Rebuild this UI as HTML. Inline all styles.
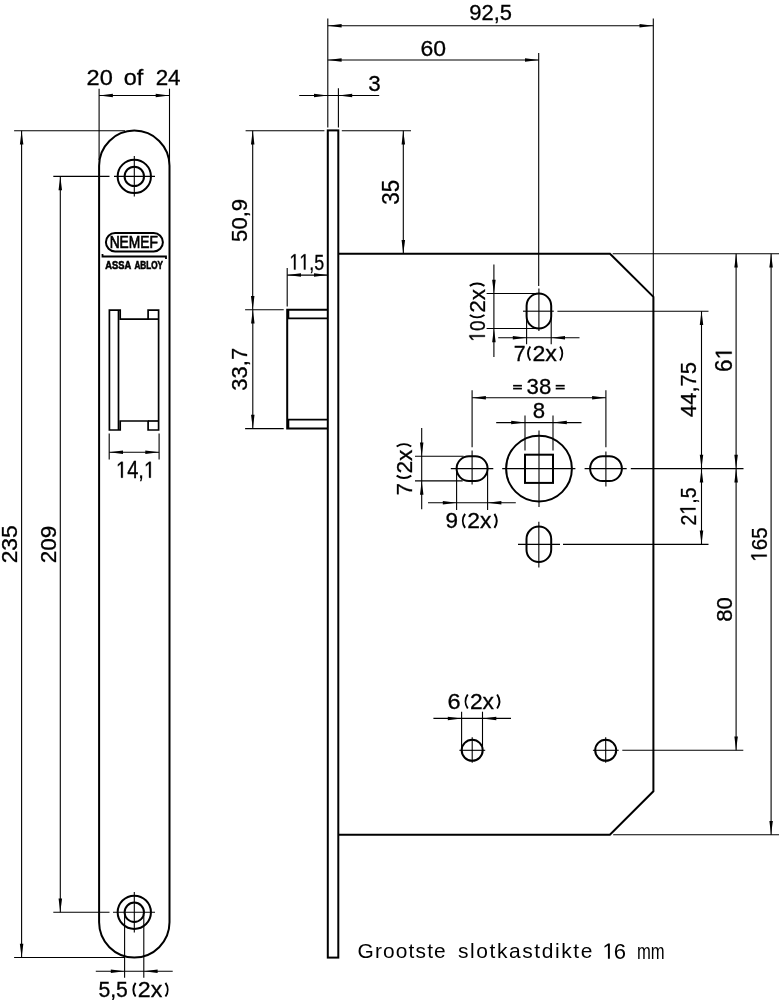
<!DOCTYPE html>
<html><head><meta charset="utf-8"><style>
html,body{margin:0;padding:0;background:#fff;}
svg{display:block;will-change:transform;}
text{font-family:"Liberation Sans",sans-serif;fill:#000;stroke:#000;stroke-width:0.3px;font-kerning:none;}
text.note{stroke:none;}
</style></head><body>
<svg width="780" height="1000" viewBox="0 0 780 1000">
<rect width="780" height="1000" fill="#fff"/>
<g stroke="#000" fill="none" stroke-linecap="butt">
<path d="M99.1,165.8 A35.2,35.2 0 0 1 169.5,165.8 L169.5,922.3 A35.2,35.2 0 0 1 99.1,922.3 Z" stroke-width="2.0" fill="none"/>
<circle cx="134.3" cy="176.4" r="16.65" stroke-width="2"/>
<circle cx="134.3" cy="176.4" r="9.7" stroke-width="2"/>
<circle cx="134.3" cy="912.3" r="16.65" stroke-width="2"/>
<circle cx="134.3" cy="912.3" r="9.7" stroke-width="2"/>
<line x1="114" y1="176.4" x2="155" y2="176.4" stroke-width="1.1"/>
<line x1="134.3" y1="156" x2="134.3" y2="196.5" stroke-width="1.1"/>
<line x1="113" y1="912.3" x2="155" y2="912.3" stroke-width="1.1"/>
<line x1="134.3" y1="892" x2="134.3" y2="932.5" stroke-width="1.1"/>
<rect x="105.9" y="233.0" width="57.0" height="18.4" rx="9.2" stroke-width="2"/>
<text x="109.67" y="247.90" font-size="16.13" textLength="48.28" lengthAdjust="spacingAndGlyphs" font-weight="normal" style="stroke-width:0.7px">NEMEF</text>
<path d="M102.5,254 V256.5 H166 V259" stroke-width="1.8" fill="none"/>
<text x="105.37" y="268.60" font-size="10.60" textLength="25.88" lengthAdjust="spacingAndGlyphs" font-weight="bold" style="stroke-width:0.6px">ASSA</text>
<text x="134.40" y="268.60" font-size="10.60" textLength="28.53" lengthAdjust="spacingAndGlyphs" font-weight="bold" style="stroke-width:0.6px">ABLOY</text>
<path d="M109.4,310.2 H120.2 V319.1 H148.1 V310.2 H158.6 V430 H148.1 V421 H120.2 V430 H109.4 Z" stroke-width="1.7" fill="none"/>
<line x1="118.5" y1="310.2" x2="118.5" y2="430" stroke-width="1.7"/>
<line x1="148.1" y1="319.1" x2="158.6" y2="319.1" stroke-width="1.7"/>
<line x1="148.1" y1="421" x2="158.6" y2="421" stroke-width="1.7"/>
<line x1="109.2" y1="433.5" x2="109.2" y2="459.6" stroke-width="1.1"/>
<line x1="159.1" y1="433.5" x2="159.1" y2="459.6" stroke-width="1.1"/>
<line x1="109.2" y1="452.2" x2="159.1" y2="452.2" stroke-width="1.1"/>
<path d="M109.20,452.20 L123.00,453.95 L123.00,450.45 Z" fill="#000" stroke="none"/>
<path d="M159.10,452.20 L145.30,450.45 L145.30,453.95 Z" fill="#000" stroke="none"/>
<text x="115.96" y="477.70" font-size="23.11" textLength="39.19" lengthAdjust="spacingAndGlyphs" font-weight="normal" > 4, </text>
<polygon points="121.03,477.70 121.03,463.74 117.90,466.30 117.90,464.38 121.17,461.80 122.81,461.80 122.81,477.70" fill="#000" stroke="#000" stroke-width="0.3"/>
<polygon points="149.02,477.70 149.02,463.74 145.89,466.30 145.89,464.38 149.17,461.80 150.80,461.80 150.80,477.70" fill="#000" stroke="#000" stroke-width="0.3"/>
<line x1="99.1" y1="88.7" x2="99.1" y2="160" stroke-width="1.1"/>
<line x1="169.5" y1="88.7" x2="169.5" y2="160" stroke-width="1.1"/>
<line x1="99.1" y1="95.5" x2="169.5" y2="95.5" stroke-width="1.1"/>
<path d="M99.10,95.50 L112.90,97.25 L112.90,93.75 Z" fill="#000" stroke="none"/>
<path d="M169.50,95.50 L155.70,93.75 L155.70,97.25 Z" fill="#000" stroke="none"/>
<text x="86.62" y="85.20" font-size="22.06" textLength="26.21" lengthAdjust="spacingAndGlyphs" font-weight="normal" >20</text>
<text x="123.72" y="85.20" font-size="21.28" textLength="19.55" lengthAdjust="spacingAndGlyphs" font-weight="normal" >of</text>
<text x="155.68" y="85.20" font-size="22.06" textLength="24.88" lengthAdjust="spacingAndGlyphs" font-weight="normal" >24</text>
<line x1="14.1" y1="130.79999999999998" x2="125" y2="130.79999999999998" stroke-width="1.1"/>
<line x1="14.1" y1="957.5" x2="125" y2="957.5" stroke-width="1.1"/>
<line x1="21.6" y1="130.79999999999998" x2="21.6" y2="957.5" stroke-width="1.1"/>
<path d="M21.60,130.80 L19.85,144.60 L23.35,144.60 Z" fill="#000" stroke="none"/>
<path d="M21.60,957.50 L23.35,943.70 L19.85,943.70 Z" fill="#000" stroke="none"/>
<g transform="translate(17.10,562.20) rotate(-90)">
<text x="-1.15" y="0.00" font-size="22.34" textLength="38.11" lengthAdjust="spacingAndGlyphs" font-weight="normal" >235</text>
</g>
<line x1="53.3" y1="176.4" x2="109.5" y2="176.4" stroke-width="1.1"/>
<line x1="53.3" y1="912.3" x2="109.5" y2="912.3" stroke-width="1.1"/>
<line x1="60.3" y1="176.4" x2="60.3" y2="912.3" stroke-width="1.1"/>
<path d="M60.30,176.40 L58.55,190.20 L62.05,190.20 Z" fill="#000" stroke="none"/>
<path d="M60.30,912.30 L62.05,898.50 L58.55,898.50 Z" fill="#000" stroke="none"/>
<g transform="translate(56.00,562.20) rotate(-90)">
<text x="-1.13" y="0.00" font-size="22.63" textLength="37.60" lengthAdjust="spacingAndGlyphs" font-weight="normal" >209</text>
</g>
<line x1="124.6" y1="915" x2="124.6" y2="977.7" stroke-width="1.1"/>
<line x1="143.8" y1="915" x2="143.8" y2="977.7" stroke-width="1.1"/>
<line x1="95.8" y1="971.2" x2="172.7" y2="971.2" stroke-width="1.1"/>
<path d="M124.60,971.20 L110.80,969.45 L110.80,972.95 Z" fill="#000" stroke="none"/>
<path d="M143.80,971.20 L157.60,972.95 L157.60,969.45 Z" fill="#000" stroke="none"/>
<text x="98.45" y="997.00" font-size="21.51" textLength="29.44" lengthAdjust="spacingAndGlyphs" font-weight="normal" >5,5</text>
<path d="M135.65,982.85 A11.35,11.35 0 0 0 135.65,996.55" stroke-width="1.9" fill="none"/>
<text x="137.82" y="997.00" font-size="21.20" textLength="24.51" lengthAdjust="spacingAndGlyphs" font-weight="normal" >2x</text>
<path d="M165.46,982.85 A11.81,11.81 0 0 1 165.46,996.55" stroke-width="1.9" fill="none"/>
<rect x="327.8" y="130.4" width="10.50" height="827.20" stroke-width="2"/>
<path d="M338.3,253.7 H610.0 L653.4,296.9 V791.3 L609.9,834.7 H338.3" stroke-width="2.0" fill="none"/>
<path d="M327.8,309.7 H287.2 V428.6 H327.8" stroke-width="2.0" fill="none"/>
<line x1="288.5" y1="309.7" x2="288.5" y2="318.4" stroke-width="1.6"/>
<line x1="288.5" y1="419.6" x2="288.5" y2="428.6" stroke-width="1.6"/>
<line x1="287.9" y1="318.4" x2="327.8" y2="318.4" stroke-width="1.8"/>
<line x1="287.9" y1="419.6" x2="327.8" y2="419.6" stroke-width="1.8"/>
<line x1="327.8" y1="18.5" x2="327.8" y2="127.4" stroke-width="1.1"/>
<line x1="653.3" y1="18.5" x2="653.3" y2="297" stroke-width="1.1"/>
<line x1="327.8" y1="25.7" x2="653.3" y2="25.7" stroke-width="1.1"/>
<path d="M327.80,25.70 L341.60,27.45 L341.60,23.95 Z" fill="#000" stroke="none"/>
<path d="M653.30,25.70 L639.50,23.95 L639.50,27.45 Z" fill="#000" stroke="none"/>
<text x="469.27" y="19.80" font-size="21.77" textLength="42.65" lengthAdjust="spacingAndGlyphs" font-weight="normal" >92,5</text>
<line x1="538.7" y1="53" x2="538.7" y2="286" stroke-width="1.1"/>
<line x1="327.8" y1="60.0" x2="538.8" y2="60.0" stroke-width="1.1"/>
<path d="M327.80,60.00 L341.60,61.75 L341.60,58.25 Z" fill="#000" stroke="none"/>
<path d="M538.80,60.00 L525.00,58.25 L525.00,61.75 Z" fill="#000" stroke="none"/>
<text x="420.53" y="55.80" font-size="22.34" textLength="25.56" lengthAdjust="spacingAndGlyphs" font-weight="normal" >60</text>
<line x1="338.4" y1="88.2" x2="338.4" y2="127.4" stroke-width="1.1"/>
<line x1="299.2" y1="95.5" x2="379.2" y2="95.5" stroke-width="1.1"/>
<path d="M327.80,95.50 L314.00,93.75 L314.00,97.25 Z" fill="#000" stroke="none"/>
<path d="M338.40,95.50 L352.20,97.25 L352.20,93.75 Z" fill="#000" stroke="none"/>
<text x="368.15" y="91.00" font-size="22.34" textLength="12.43" lengthAdjust="spacingAndGlyphs" font-weight="normal" >3</text>
<line x1="341.8" y1="130.8" x2="411" y2="130.8" stroke-width="1.1"/>
<line x1="403.3" y1="130.8" x2="403.3" y2="253.7" stroke-width="1.1"/>
<path d="M403.30,130.80 L401.55,144.60 L405.05,144.60 Z" fill="#000" stroke="none"/>
<path d="M403.30,253.70 L405.05,239.90 L401.55,239.90 Z" fill="#000" stroke="none"/>
<g transform="translate(399.30,204.00) rotate(-90)">
<text x="-0.86" y="0.00" font-size="23.34" textLength="25.00" lengthAdjust="spacingAndGlyphs" font-weight="normal" >35</text>
</g>
<line x1="245.6" y1="130.8" x2="324.4" y2="130.8" stroke-width="1.1"/>
<line x1="252.7" y1="130.8" x2="252.7" y2="309.7" stroke-width="1.1"/>
<path d="M252.70,130.80 L250.95,144.60 L254.45,144.60 Z" fill="#000" stroke="none"/>
<path d="M252.70,309.70 L254.45,295.90 L250.95,295.90 Z" fill="#000" stroke="none"/>
<g transform="translate(246.90,241.00) rotate(-90)">
<text x="-0.89" y="0.00" font-size="22.77" textLength="43.03" lengthAdjust="spacingAndGlyphs" font-weight="normal" >50,9</text>
</g>
<line x1="245.1" y1="309.7" x2="283.7" y2="309.7" stroke-width="1.1"/>
<line x1="245.1" y1="428.6" x2="283.7" y2="428.6" stroke-width="1.1"/>
<line x1="252.8" y1="309.7" x2="252.8" y2="428.6" stroke-width="1.1"/>
<path d="M252.80,309.70 L251.05,323.50 L254.55,323.50 Z" fill="#000" stroke="none"/>
<path d="M252.80,428.60 L254.55,414.80 L251.05,414.80 Z" fill="#000" stroke="none"/>
<g transform="translate(246.90,389.80) rotate(-90)">
<text x="-0.84" y="0.00" font-size="22.77" textLength="42.74" lengthAdjust="spacingAndGlyphs" font-weight="normal" >33,7</text>
</g>
<line x1="287.2" y1="268.0" x2="287.2" y2="306.5" stroke-width="1.1"/>
<line x1="287.2" y1="275.1" x2="327.8" y2="275.1" stroke-width="1.1"/>
<path d="M287.20,275.10 L301.00,276.85 L301.00,273.35 Z" fill="#000" stroke="none"/>
<path d="M327.80,275.10 L314.00,273.35 L314.00,276.85 Z" fill="#000" stroke="none"/>
<text x="289.48" y="269.60" font-size="22.38" textLength="34.77" lengthAdjust="spacingAndGlyphs" font-weight="normal" >  ,5</text>
<polygon points="293.97,269.60 293.97,256.08 291.20,258.56 291.20,256.70 294.10,254.20 295.55,254.20 295.55,269.60" fill="#000" stroke="#000" stroke-width="0.3"/>
<polygon points="303.91,269.60 303.91,256.08 301.14,258.56 301.14,256.70 304.04,254.20 305.49,254.20 305.49,269.60" fill="#000" stroke="#000" stroke-width="0.3"/>
<path d="M526.6,305.8 A12.3,12.3 0 0 1 551.1999999999999,305.8 V316.2 A12.3,12.3 0 0 1 526.6,316.2 Z" stroke-width="2.0" fill="none"/>
<line x1="523" y1="311.2" x2="553.8" y2="311.2" stroke-width="1.1"/>
<line x1="538.9" y1="288.5" x2="538.9" y2="331" stroke-width="1.1"/>
<line x1="486.6" y1="293.5" x2="535.4" y2="293.5" stroke-width="1.1"/>
<line x1="486.6" y1="328.5" x2="537" y2="328.5" stroke-width="1.1"/>
<line x1="493.9" y1="264.6" x2="493.9" y2="357" stroke-width="1.1"/>
<path d="M493.90,293.50 L495.65,279.70 L492.15,279.70 Z" fill="#000" stroke="none"/>
<path d="M493.90,328.50 L492.15,342.30 L495.65,342.30 Z" fill="#000" stroke="none"/>
<g transform="translate(484.90,339.80) rotate(-90)">
<text x="-1.83" y="0.00" font-size="22.63" textLength="21.17" lengthAdjust="spacingAndGlyphs" font-weight="normal" > 0</text>
<polygon points="2.96,0.00 2.96,-13.67 0.00,-11.16 0.00,-13.04 3.10,-15.57 4.64,-15.57 4.64,0.00" fill="#000" stroke="#000" stroke-width="0.3"/>
</g>
<g transform="translate(484.90,318.10) rotate(-90)">
<path d="M3.14,-15.15 A13.40,13.40 0 0 0 3.14,-0.45" stroke-width="1.9" fill="none"/>
<text x="5.29" y="0.00" font-size="22.63" textLength="23.90" lengthAdjust="spacingAndGlyphs" font-weight="normal" >2x</text>
<path d="M32.26,-15.15 A13.98,13.98 0 0 1 32.26,-0.45" stroke-width="1.9" fill="none"/>
</g>
<line x1="526.6" y1="318" x2="526.6" y2="344.2" stroke-width="1.1"/>
<line x1="551.2" y1="318" x2="551.2" y2="344.2" stroke-width="1.1"/>
<line x1="498.2" y1="337.7" x2="579.5" y2="337.7" stroke-width="1.1"/>
<path d="M526.60,337.70 L512.80,335.95 L512.80,339.45 Z" fill="#000" stroke="none"/>
<path d="M551.20,337.70 L565.00,339.45 L565.00,335.95 Z" fill="#000" stroke="none"/>
<text x="513.81" y="360.90" font-size="21.95" textLength="11.87" lengthAdjust="spacingAndGlyphs" font-weight="normal" >7</text>
<path d="M530.29,346.45 A11.83,11.83 0 0 0 530.29,360.45" stroke-width="1.9" fill="none"/>
<text x="532.46" y="360.90" font-size="21.63" textLength="24.48" lengthAdjust="spacingAndGlyphs" font-weight="normal" >2x</text>
<path d="M560.07,346.45 A12.31,12.31 0 0 1 560.07,360.45" stroke-width="1.9" fill="none"/>
<line x1="557.4" y1="311.2" x2="708.5" y2="311.2" stroke-width="1.1"/>
<line x1="701.5" y1="311.2" x2="701.5" y2="468.6" stroke-width="1.1"/>
<path d="M701.50,311.20 L699.75,325.00 L703.25,325.00 Z" fill="#000" stroke="none"/>
<path d="M701.50,468.60 L703.25,454.80 L699.75,454.80 Z" fill="#000" stroke="none"/>
<g transform="translate(695.80,416.50) rotate(-90)">
<text x="-0.50" y="0.00" font-size="22.67" textLength="54.93" lengthAdjust="spacingAndGlyphs" font-weight="normal" >44,75</text>
</g>
<line x1="612.7" y1="253.7" x2="779" y2="253.7" stroke-width="1.1"/>
<line x1="736.1" y1="253.7" x2="736.1" y2="468.6" stroke-width="1.1"/>
<path d="M736.10,253.70 L734.35,267.50 L737.85,267.50 Z" fill="#000" stroke="none"/>
<path d="M736.10,468.60 L737.85,454.80 L734.35,454.80 Z" fill="#000" stroke="none"/>
<g transform="translate(731.70,370.80) rotate(-90)">
<text x="-1.14" y="0.00" font-size="23.20" textLength="25.00" lengthAdjust="spacingAndGlyphs" font-weight="normal" >6 </text>
<polygon points="17.01,0.00 17.01,-14.01 13.52,-11.44 13.52,-13.37 17.18,-15.96 19.00,-15.96 19.00,0.00" fill="#000" stroke="#000" stroke-width="0.3"/>
</g>
<line x1="450.8" y1="468.6" x2="493.3" y2="468.6" stroke-width="1.1"/>
<line x1="502.2" y1="468.6" x2="575.4" y2="468.6" stroke-width="1.1"/>
<line x1="584.6" y1="468.6" x2="626.7" y2="468.6" stroke-width="1.1"/>
<line x1="630.8" y1="468.6" x2="743.5" y2="468.6" stroke-width="1.1"/>
<line x1="472.1" y1="390.3" x2="472.1" y2="447.3" stroke-width="1.1"/>
<line x1="605.9" y1="390.3" x2="605.9" y2="447.3" stroke-width="1.1"/>
<line x1="472.1" y1="397.8" x2="605.9" y2="397.8" stroke-width="1.1"/>
<path d="M472.10,397.80 L485.90,399.55 L485.90,396.05 Z" fill="#000" stroke="none"/>
<path d="M605.90,397.80 L592.10,396.05 L592.10,399.55 Z" fill="#000" stroke="none"/>
<text x="526.55" y="393.50" font-size="22.49" textLength="24.71" lengthAdjust="spacingAndGlyphs" font-weight="normal" >38</text>
<line x1="513.1" y1="385.7" x2="521.9" y2="385.7" stroke-width="1.7"/>
<line x1="513.1" y1="388.6" x2="521.9" y2="388.6" stroke-width="1.7"/>
<line x1="555.7" y1="385.7" x2="564.7" y2="385.7" stroke-width="1.7"/>
<line x1="555.7" y1="388.6" x2="564.7" y2="388.6" stroke-width="1.7"/>
<line x1="525.0" y1="415.5" x2="525.0" y2="450.5" stroke-width="1.1"/>
<line x1="553.0" y1="415.5" x2="553.0" y2="450.5" stroke-width="1.1"/>
<line x1="496.2" y1="422.6" x2="581.5" y2="422.6" stroke-width="1.1"/>
<path d="M525.00,422.60 L511.20,420.85 L511.20,424.35 Z" fill="#000" stroke="none"/>
<path d="M553.00,422.60 L566.80,424.35 L566.80,420.85 Z" fill="#000" stroke="none"/>
<text x="532.64" y="418.00" font-size="22.20" textLength="12.33" lengthAdjust="spacingAndGlyphs" font-weight="normal" >8</text>
<circle cx="539.0" cy="468.6" r="32.9" stroke-width="2"/>
<rect x="525.0" y="454.7" width="28.0" height="28.2" stroke-width="2"/>
<line x1="539.0" y1="430.5" x2="539.0" y2="507" stroke-width="1.1"/>
<path d="M468.95000000000005,456.25 H475.25 A12.35,12.35 0 0 1 475.25,480.95000000000005 H468.95000000000005 A12.35,12.35 0 0 1 468.95000000000005,456.25 Z" stroke-width="2.0" fill="none"/>
<line x1="472.1" y1="450.5" x2="472.1" y2="484.5" stroke-width="1.1"/>
<path d="M602.55,456.15000000000003 H609.45 A12.45,12.45 0 0 1 609.45,481.05 H602.55 A12.45,12.45 0 0 1 602.55,456.15000000000003 Z" stroke-width="2.0" fill="none"/>
<line x1="605.9" y1="451.4" x2="605.9" y2="486.4" stroke-width="1.1"/>
<line x1="415" y1="456.2" x2="463.6" y2="456.2" stroke-width="1.1"/>
<line x1="415" y1="480.9" x2="462.7" y2="480.9" stroke-width="1.1"/>
<line x1="421.7" y1="428" x2="421.7" y2="509.2" stroke-width="1.1"/>
<path d="M421.70,456.20 L423.45,442.40 L419.95,442.40 Z" fill="#000" stroke="none"/>
<path d="M421.70,480.90 L419.95,494.70 L423.45,494.70 Z" fill="#000" stroke="none"/>
<g transform="translate(411.70,494.10) rotate(-90)">
<text x="-1.12" y="0.00" font-size="22.82" textLength="12.11" lengthAdjust="spacingAndGlyphs" font-weight="normal" >7</text>
</g>
<g transform="translate(411.70,478.80) rotate(-90)">
<path d="M3.16,-15.05 A13.18,13.18 0 0 0 3.16,-0.45" stroke-width="1.9" fill="none"/>
<text x="5.30" y="0.00" font-size="22.49" textLength="23.97" lengthAdjust="spacingAndGlyphs" font-weight="normal" >2x</text>
<path d="M32.35,-15.05 A13.74,13.74 0 0 1 32.35,-0.45" stroke-width="1.9" fill="none"/>
</g>
<line x1="456.6" y1="472" x2="456.6" y2="510" stroke-width="1.1"/>
<line x1="487.6" y1="472" x2="487.6" y2="510" stroke-width="1.1"/>
<line x1="428" y1="502.8" x2="515.8" y2="502.8" stroke-width="1.1"/>
<path d="M456.60,502.80 L442.80,501.05 L442.80,504.55 Z" fill="#000" stroke="none"/>
<path d="M487.60,502.80 L501.40,504.55 L501.40,501.05 Z" fill="#000" stroke="none"/>
<text x="445.44" y="528.30" font-size="21.63" textLength="12.52" lengthAdjust="spacingAndGlyphs" font-weight="normal" >9</text>
<path d="M465.08,513.85 A12.10,12.10 0 0 0 465.08,527.85" stroke-width="1.9" fill="none"/>
<text x="467.23" y="528.30" font-size="21.63" textLength="24.11" lengthAdjust="spacingAndGlyphs" font-weight="normal" >2x</text>
<path d="M494.43,513.85 A12.60,12.60 0 0 1 494.43,527.85" stroke-width="1.9" fill="none"/>
<path d="M526.5,538.9499999999999 A12.35,12.35 0 0 1 551.2,538.9499999999999 V549.65 A12.35,12.35 0 0 1 526.5,549.65 Z" stroke-width="2.0" fill="none"/>
<line x1="518" y1="544.4" x2="560" y2="544.4" stroke-width="1.1"/>
<line x1="538.85" y1="521.7" x2="538.85" y2="567.4" stroke-width="1.1"/>
<line x1="563" y1="544.4" x2="708.5" y2="544.4" stroke-width="1.1"/>
<line x1="701.5" y1="468.6" x2="701.5" y2="544.4" stroke-width="1.1"/>
<path d="M701.50,468.60 L699.75,482.40 L703.25,482.40 Z" fill="#000" stroke="none"/>
<path d="M701.50,544.40 L703.25,530.60 L699.75,530.60 Z" fill="#000" stroke="none"/>
<g transform="translate(695.50,524.50) rotate(-90)">
<text x="-0.98" y="0.00" font-size="22.20" textLength="38.00" lengthAdjust="spacingAndGlyphs" font-weight="normal" >2 ,5</text>
<polygon points="14.79,0.00 14.79,-13.41 11.76,-10.95 11.76,-12.79 14.93,-15.27 16.51,-15.27 16.51,0.00" fill="#000" stroke="#000" stroke-width="0.3"/>
</g>
<circle cx="472.2" cy="750.3" r="10.5" stroke-width="2"/>
<line x1="459.4" y1="750.3" x2="485.2" y2="750.3" stroke-width="1.1"/>
<line x1="472.2" y1="737.2" x2="472.2" y2="762.8" stroke-width="1.1"/>
<circle cx="605.7" cy="750.3" r="10.5" stroke-width="2"/>
<line x1="592.9000000000001" y1="750.3" x2="618.7" y2="750.3" stroke-width="1.1"/>
<line x1="605.7" y1="737.2" x2="605.7" y2="762.8" stroke-width="1.1"/>
<line x1="622.3" y1="750.3" x2="743.3" y2="750.3" stroke-width="1.1"/>
<line x1="736.1" y1="468.6" x2="736.1" y2="750.3" stroke-width="1.1"/>
<path d="M736.10,468.60 L734.35,482.40 L737.85,482.40 Z" fill="#000" stroke="none"/>
<path d="M736.10,750.30 L737.85,736.50 L734.35,736.50 Z" fill="#000" stroke="none"/>
<g transform="translate(731.70,620.80) rotate(-90)">
<text x="-0.96" y="0.00" font-size="22.77" textLength="24.63" lengthAdjust="spacingAndGlyphs" font-weight="normal" >80</text>
</g>
<line x1="613.2" y1="834.7" x2="779" y2="834.7" stroke-width="1.1"/>
<line x1="771.1" y1="253.7" x2="771.1" y2="834.7" stroke-width="1.1"/>
<path d="M771.10,253.70 L769.35,267.50 L772.85,267.50 Z" fill="#000" stroke="none"/>
<path d="M771.10,834.70 L772.85,820.90 L769.35,820.90 Z" fill="#000" stroke="none"/>
<g transform="translate(766.75,559.75) rotate(-90)">
<text x="-1.98" y="0.00" font-size="22.56" textLength="34.29" lengthAdjust="spacingAndGlyphs" font-weight="normal" > 65</text>
<polygon points="3.19,0.00 3.19,-13.62 0.00,-11.12 0.00,-13.00 3.34,-15.52 5.01,-15.52 5.01,0.00" fill="#000" stroke="#000" stroke-width="0.3"/>
</g>
<line x1="461.6" y1="711.7" x2="461.6" y2="748" stroke-width="1.1"/>
<line x1="482.5" y1="711.7" x2="482.5" y2="748" stroke-width="1.1"/>
<line x1="433.4" y1="718.4" x2="511" y2="718.4" stroke-width="1.1"/>
<path d="M461.60,718.40 L447.80,716.65 L447.80,720.15 Z" fill="#000" stroke="none"/>
<path d="M482.50,718.40 L496.30,720.15 L496.30,716.65 Z" fill="#000" stroke="none"/>
<text x="447.56" y="709.00" font-size="21.77" textLength="13.08" lengthAdjust="spacingAndGlyphs" font-weight="normal" >6</text>
<path d="M467.78,694.45 A12.26,12.26 0 0 0 467.78,708.55" stroke-width="1.9" fill="none"/>
<text x="469.93" y="709.00" font-size="21.77" textLength="24.11" lengthAdjust="spacingAndGlyphs" font-weight="normal" >2x</text>
<path d="M497.13,694.45 A12.77,12.77 0 0 1 497.13,708.55" stroke-width="1.9" fill="none"/>
<text x="357.55" y="957.80" font-size="20.91" letter-spacing="1.142" font-weight="normal" class="note">Grootste</text>
<text x="458.02" y="958.00" font-size="20.98" letter-spacing="1.583" font-weight="normal" class="note">slotkastdikte</text>
<text x="602.38" y="958.70" font-size="22.06" letter-spacing="-0.942" font-weight="normal" class="note"> 6</text>
<polygon points="607.92,958.70 607.92,945.38 604.50,947.82 604.50,945.99 608.09,943.53 609.87,943.53 609.87,958.70" fill="#000" stroke="none"/>
<text x="636.90" y="958.70" font-size="21.56" textLength="27.70" lengthAdjust="spacingAndGlyphs" font-weight="normal" class="note">mm</text>
</g>
</svg>
</body></html>
